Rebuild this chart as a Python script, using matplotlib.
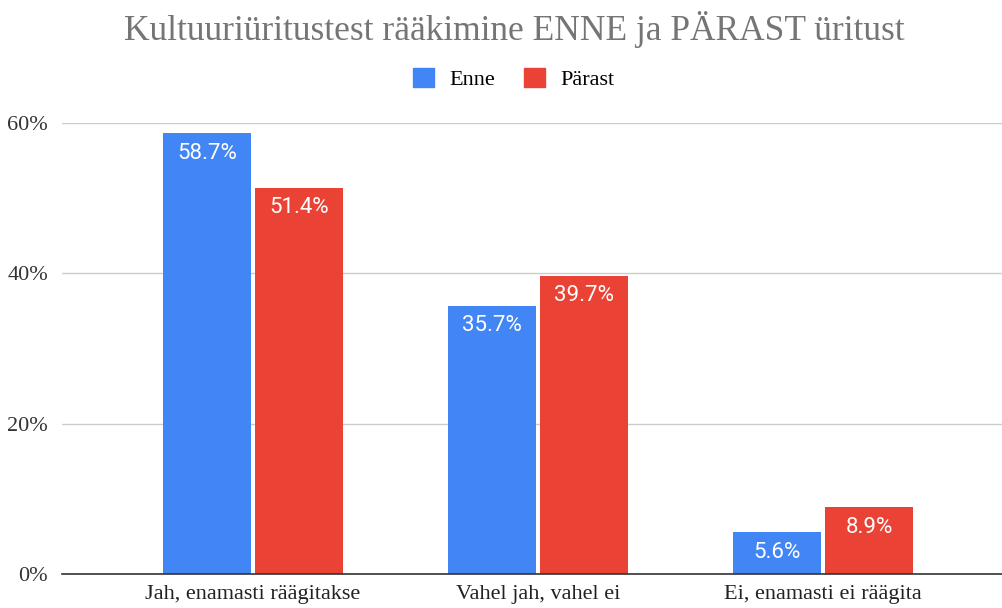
import numpy as np
import matplotlib.pyplot as plt
from matplotlib.patches import Patch

categories = ['Jah, enamasti räägitakse', 'Vahel jah, vahel ei', 'Ei, enamasti ei räägita']
enne = [58.7, 35.7, 5.6]
parast = [51.4, 39.7, 8.9]
series_names = ['Enne', 'Pärast']
yticks = [0, 20, 40, 60]

blue = '#4285F4'
red = '#EA4335'

fig = plt.figure(figsize=(10.03, 6.08), dpi=100)
ax = fig.add_axes([0.0618, 0.0559, 0.9382, 0.7418])

x = np.arange(len(categories))
w = 0.309
off = 0.161
b1 = ax.bar(x - off, enne, w, color=blue)
b2 = ax.bar(x + off, parast, w, color=red)

for bars, vals in [(b1, enne), (b2, parast)]:
    for b, v in zip(bars, vals):
        ax.text(b.get_x() + b.get_width() / 2, v - 1.3, f'{v}%', ha='center', va='top',
                color='white', fontsize=16, family='Roboto')

ax.set_xlim(-0.67, 2.63)
ax.set_ylim(0, 60)
ax.set_yticks(yticks)
ax.set_yticklabels([f'{t}%' for t in yticks], family='Liberation Serif', fontsize=16, color='#333333')
ax.set_xticks(x)
ax.set_xticklabels(categories, family='Liberation Serif', fontsize=16, color='#222222')
ax.tick_params(length=0, pad=10)
ax.tick_params(axis='x', pad=8)
ax.grid(axis='y', color='#cccccc', linewidth=1)
ax.set_axisbelow(True)
for s in ['top', 'right', 'left']:
    ax.spines[s].set_visible(False)
ax.spines['bottom'].set_color('#333333')
ax.spines['bottom'].set_linewidth(1.2)
ax.spines['bottom'].set_zorder(5)

fig.text(0.513, 1 - 30 / 608, 'Kultuuriüritustest rääkimine ENNE ja PÄRAST üritust', ha='center', va='center',
         family='Liberation Serif', fontsize=25.5, color='#757575')

handles = [Patch(color=blue), Patch(color=red)]
fig.legend(handles, series_names, loc='center', bbox_to_anchor=(0.512, 1 - 79 / 608), ncol=2, frameon=False,
           prop={'family': 'Liberation Serif', 'size': 16}, handlelength=0.95, handleheight=0.9,
           columnspacing=1.3, handletextpad=0.68)

fig.savefig('out.png', dpi=100)
